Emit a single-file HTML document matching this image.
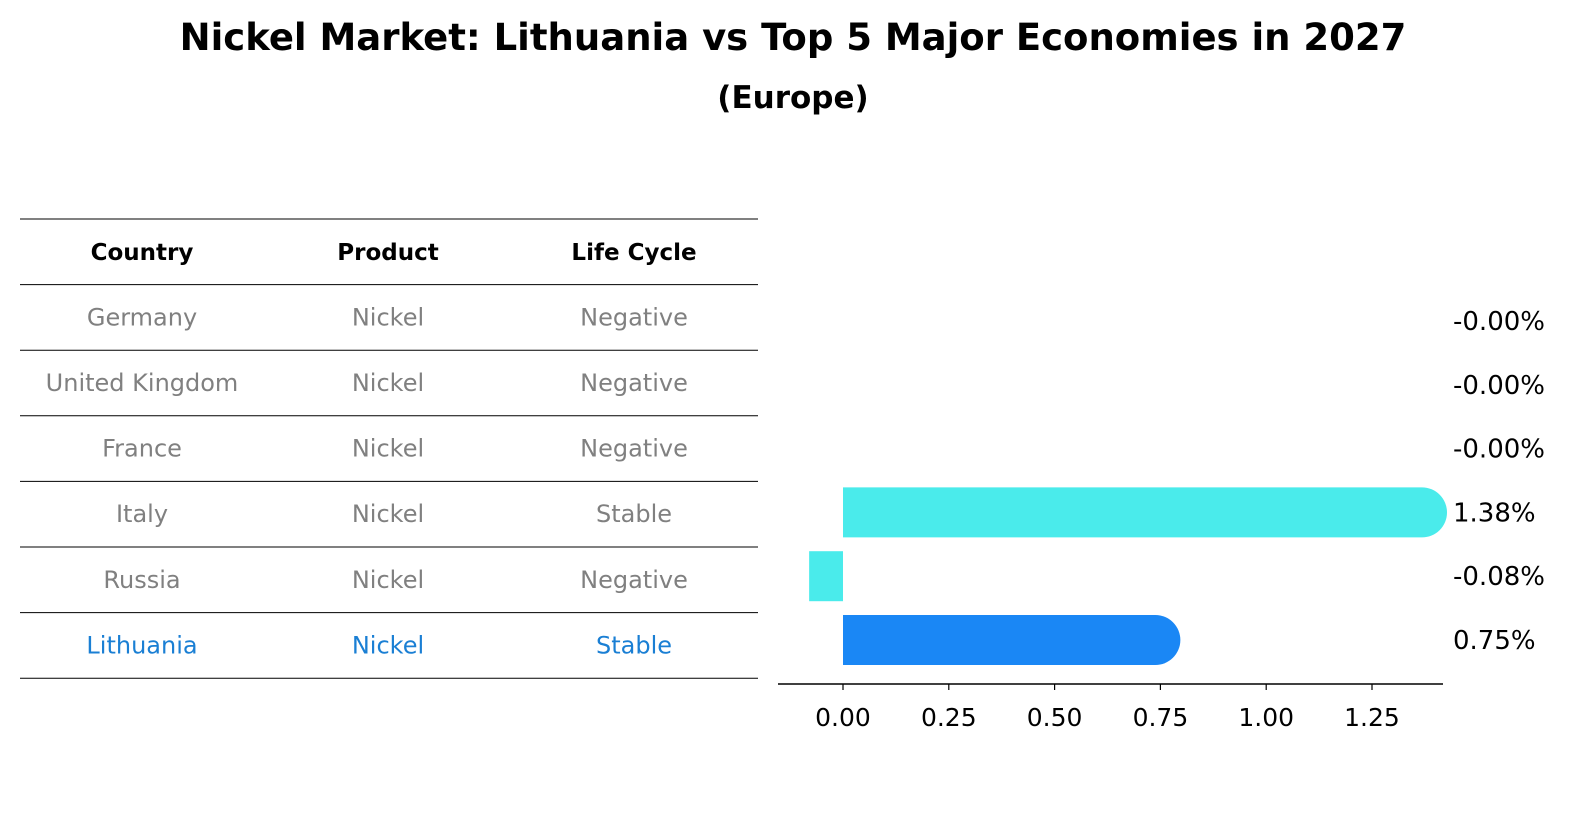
<!DOCTYPE html>
<html><head><meta charset="utf-8"><style>
body{margin:0;background:#fff;font-family:"DejaVu Sans","Liberation Sans",sans-serif;}
</style></head><body>
<svg width="1596" height="823" xmlns="http://www.w3.org/2000/svg" font-family="'DejaVu Sans','Liberation Sans',sans-serif">
<text x="793" y="50" text-anchor="middle" font-size="37" font-weight="bold">Nickel Market: Lithuania vs Top 5 Major Economies in 2027</text>
<text x="793" y="108" text-anchor="middle" font-size="31" font-weight="bold">(Europe)</text>
<g id="table"></g>
<g id="bars"></g>
</svg>
<script>
const countries=["Germany","United Kingdom","France","Italy","Russia","Lithuania"];
const products=["Nickel","Nickel","Nickel","Nickel","Nickel","Nickel"];
const lifeCycles=["Negative","Negative","Negative","Stable","Negative","Stable"];
const growthValues=[-0.0001,-0.0001,-0.0001,1.38,-0.08,0.75];
const valueLabels=["-0.00%","-0.00%","-0.00%","1.38%","-0.08%","0.75%"];
const tickValues=[0,0.25,0.5,0.75,1.0,1.25];
const tickLabels=["0.00","0.25","0.50","0.75","1.00","1.25"];
const NS="http://www.w3.org/2000/svg";
function mk(tag,attrs,parent,text){const e=document.createElementNS(NS,tag);for(const k in attrs)e.setAttribute(k,attrs[k]);if(text!==undefined)e.textContent=text;parent.appendChild(e);return e;}
const tbl=document.getElementById('table');
const rowTop=219,rowH=65.6,colX=[142,388,634];
for(let i=0;i<=countries.length+1;i++){
  const l=mk('line',{x1:20,x2:758,y1:rowTop+i*rowH,y2:rowTop+i*rowH,stroke:'#000','stroke-width':1},tbl);
  
  
}
["Country","Product","Life Cycle"].forEach((h,j)=>{
  const t=mk('text',{x:colX[j],y:rowTop+rowH/2+8,'text-anchor':'middle','font-size':23,'font-weight':'bold'},tbl,h);
  
  
});
countries.forEach((c,i)=>{
  const col=i===countries.length-1?'#1a7fd4':'#808080';
  [c,products[i],lifeCycles[i]].forEach((v,j)=>{
    const t=mk('text',{x:colX[j],y:rowTop+(i+1.5)*rowH+8,'text-anchor':'middle','font-size':24,fill:col},tbl,v);
    
    
  });
});
const bars=document.getElementById('bars');
const x0=843,scale=423.2;
const xs=v=>x0+v*scale;
const yc=i=>321+i*63.8;
const bh=50;
growthValues.forEach((v,i)=>{
  const col=i===growthValues.length-1?'#1a87f5':'#4aebeb';
  const xa=Math.min(xs(0),xs(v)),xb=Math.max(xs(0),xs(v));
  if(Math.abs(v)>0.001){
    if(v>0.2){
      const p=mk('path',{d:`M${xa},${yc(i)-bh/2} H${xb-5} A25,25 0 0 1 ${xb-5},${yc(i)+bh/2} H${xa} Z`,fill:col},bars);
      
      
    }else{
      const r=mk('rect',{x:xa,y:yc(i)-bh/2,width:xb-xa,height:bh,fill:col},bars);
      
      
    }
  }
  const t=mk('text',{x:1453,y:yc(i)+9,'font-size':26},bars,valueLabels[i]);
  
  
});
const ax=mk('line',{x1:778,x2:1443,y1:684,y2:684,stroke:'#000','stroke-width':1.5},bars);


tickValues.forEach((v,i)=>{
  const tk=mk('line',{x1:xs(v),x2:xs(v),y1:684,y2:690,stroke:'#000','stroke-width':1.2},bars);
  
  
  const t=mk('text',{x:xs(v),y:726,'text-anchor':'middle','font-size':25},bars,tickLabels[i]);
  
  
});
</script>
</body></html>
